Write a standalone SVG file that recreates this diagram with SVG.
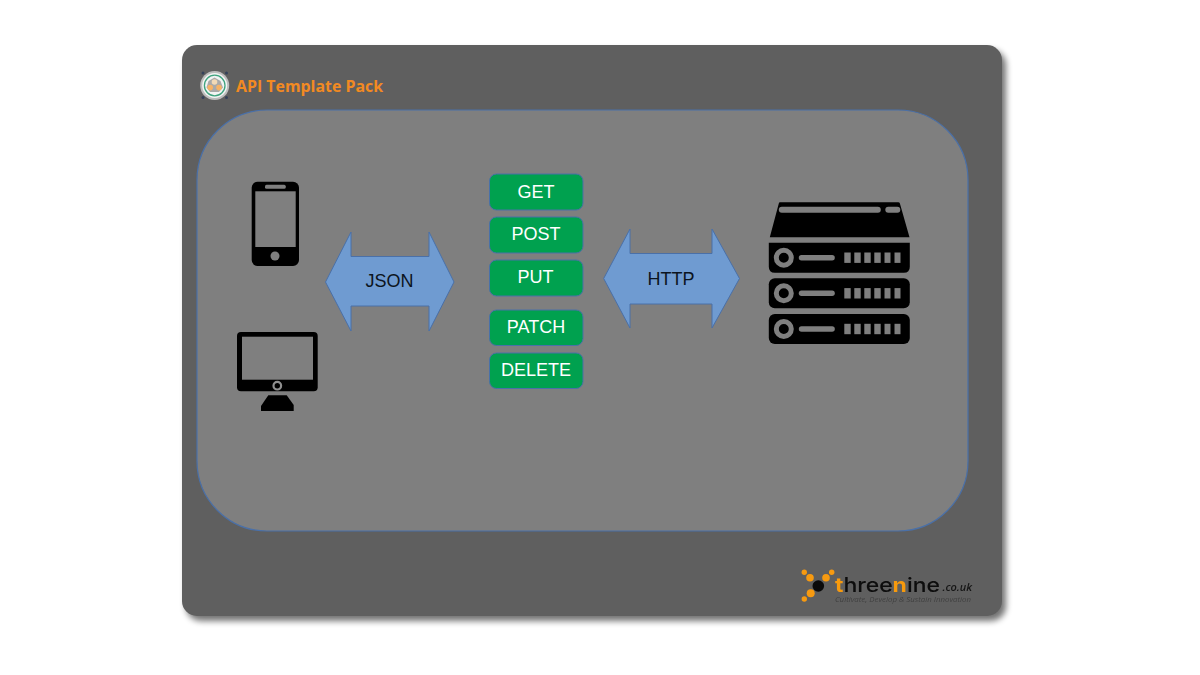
<svg xmlns="http://www.w3.org/2000/svg" width="1200" height="675" viewBox="0 0 1200 675">
  <defs>
    <filter id="shadow" x="-5%" y="-5%" width="112%" height="112%">
      <feGaussianBlur stdDeviation="3"/>
    </filter>
    <filter id="soft" x="-5%" y="-20%" width="110%" height="140%">
      <feGaussianBlur stdDeviation="0.45"/>
    </filter>
    <g id="unit">
      <circle cx="783.800" cy="0" r="7.500" fill="none" stroke="#7f7f7f" stroke-width="5"/>
      <rect x="798.800" y="-2.700" width="36" height="5.400" rx="2.700" fill="#7f7f7f"/>
      <rect x="844.300" y="-5.200" width="6.400" height="10.400" fill="#7f7f7f"/>
      <rect x="854.300" y="-5.200" width="6.400" height="10.400" fill="#7f7f7f"/>
      <rect x="864.300" y="-5.200" width="6.400" height="10.400" fill="#7f7f7f"/>
      <rect x="874.300" y="-5.200" width="6.400" height="10.400" fill="#7f7f7f"/>
      <rect x="884.500" y="-5.200" width="6" height="10.400" fill="#7f7f7f"/>
      <rect x="894.500" y="-5.200" width="6" height="10.400" fill="#7f7f7f"/>
    </g>
  </defs>
  <style>
    .btn { fill: #00a14f; stroke: #4a70a8; stroke-width: 1; }
    .btnt { font-family: "Liberation Sans", Arial, sans-serif; font-size: 18px; fill: #ffffff; text-anchor: middle; }
    .arrow { fill: #6f9bd1; stroke: #4a70a8; stroke-width: 1; }
    .arrowt { font-family: "Liberation Sans", Arial, sans-serif; font-size: 18px; fill: #0c1420; text-anchor: middle; }
    .org { fill: #f79a10; }
  </style>
  <rect width="1200" height="675" fill="#ffffff"/>

  <g id="panel">
    <rect x="186" y="50" width="820" height="571" rx="15" fill="#000000" opacity="0.55" filter="url(#shadow)"/>
    <rect x="182" y="45" width="820" height="571" rx="15" fill="#5f5f5f"/>
    <rect x="197" y="110" width="771" height="421" rx="70" fill="#7f7f7f" stroke="#4a70a8" stroke-width="1.200"/>
  </g>

  <g id="title">
    <circle cx="203" cy="73" r="1.500" fill="#34415a"/>
    <circle cx="226.500" cy="73" r="1.500" fill="#34415a"/>
    <circle cx="203" cy="97.500" r="1.500" fill="#34415a"/>
    <circle cx="226.500" cy="97.500" r="1.500" fill="#34415a"/>
    <circle cx="214.700" cy="85.500" r="14.500" fill="#bdbdbd"/>
    <circle cx="214.700" cy="85.500" r="12.500" fill="#f2f4f3"/>
    <circle cx="214.700" cy="85.500" r="10.300" fill="#f2f4f3" stroke="#3fa37f" stroke-width="1.300"/>
    <path d="M214.500 77.500L220.500 81L223 87.500L219 92H210L206.500 87.500L208.500 81Z" fill="#a9a9a9"/>
    <circle cx="214.500" cy="82" r="2.800" fill="#f3d9b5"/>
    <circle cx="210.200" cy="87.600" r="2.800" fill="#f7b366"/>
    <circle cx="219" cy="87.600" r="2.800" fill="#f7b366"/>
    <text x="236" y="91.500" font-family="'Open Sans', 'Noto Sans', sans-serif" font-weight="700" font-size="16px" fill="#f28a22" textLength="147" lengthAdjust="spacingAndGlyphs">API Template Pack</text>
  </g>

  <g id="phone">
    <rect x="251.700" y="181.700" width="47.300" height="84.300" rx="6" fill="#000000"/>
    <rect x="255.300" y="191.300" width="40.400" height="55.700" fill="#7f7f7f"/>
    <rect x="265" y="184.700" width="20.700" height="4" rx="1.500" fill="#7f7f7f"/>
    <circle cx="275" cy="256" r="4.500" fill="#7f7f7f"/>
  </g>

  <g id="desktop">
    <rect x="237" y="332" width="80.700" height="59.300" rx="4" fill="#000000"/>
    <rect x="242" y="336.700" width="71" height="43" fill="#7f7f7f"/>
    <circle cx="277.300" cy="385.700" r="3.800" fill="#000000" stroke="#8f8f8f" stroke-width="2.200"/>
    <path d="M268.300 395.300H286.700L293.700 405V411H261V406Z" fill="#000000"/>
  </g>

  <g id="connectors">
    <g id="json-arrow">
      <path class="arrow" d="M325.500 282L351 232V256.500H429V232L454 282L429 331V306H351V331Z"/>
      <text class="arrowt" x="389.500" y="287">JSON</text>
    </g>
    <g id="http-arrow">
      <path class="arrow" d="M603.700 278.500L630 229V253.500H712V229L739.500 278.500L712 328V304H630V328Z"/>
      <text class="arrowt" x="671" y="285">HTTP</text>
    </g>
  </g>

  <g id="get"><rect class="btn" x="489.500" y="174" width="93.500" height="36" rx="7"/><text class="btnt" x="536" y="198">GET</text></g>
  <g id="post"><rect class="btn" x="489.500" y="217" width="93.500" height="36" rx="7"/><text class="btnt" x="536" y="240">POST</text></g>
  <g id="put"><rect class="btn" x="489.500" y="260" width="93.500" height="36" rx="7"/><text class="btnt" x="535.500" y="283">PUT</text></g>
  <g id="patch"><rect class="btn" x="489.500" y="310" width="93.500" height="35.500" rx="7"/><text class="btnt" x="536" y="333">PATCH</text></g>
  <g id="delete"><rect class="btn" x="489.500" y="353" width="93.500" height="35.500" rx="7"/><text class="btnt" x="536" y="376">DELETE</text></g>

  <g id="server">
    <path d="M780 202.300H898.300Q899.500 202.300 899.900 203.500L909.500 237.300H769.800L778.800 203.500Q779 202.300 780 202.300Z" fill="#000000"/>
    <rect x="778.800" y="206.800" width="102" height="6" rx="3" fill="#7f7f7f"/>
    <rect x="885.300" y="206.800" width="15" height="6" rx="3" fill="#7f7f7f"/>
    <path d="M768.800 242.700H909.800V266.700Q909.800 272.700 903.800 272.700H774.800Q768.800 272.700 768.800 266.700Z" fill="#000000"/>
    <use href="#unit" y="257.700"/>
    <rect x="768.800" y="278.300" width="141" height="30" rx="6" fill="#000000"/>
    <use href="#unit" y="293.300"/>
    <rect x="768.800" y="314" width="141" height="30" rx="6" fill="#000000"/>
    <use href="#unit" y="329"/>
  </g>

  <g id="threenine-logo">
    <g class="org">
      <circle cx="804.300" cy="572.300" r="2.700"/>
      <circle cx="810" cy="577.700" r="3.800"/>
      <circle cx="826" cy="577.700" r="3.800"/>
      <circle cx="831.700" cy="572.300" r="2.700"/>
      <circle cx="810.700" cy="593.300" r="4"/>
      <circle cx="804.300" cy="599" r="2.700"/>
    </g>
    <circle cx="818.300" cy="586" r="5.800" fill="#0a0a0a"/>
    <g filter="url(#soft)">
      <text x="835" y="591.500" font-family="Inter, 'Open Sans', sans-serif" font-weight="500" font-size="20px" fill="#0a0a0a" textLength="105" lengthAdjust="spacingAndGlyphs"><tspan fill="#f79a10" font-weight="700">t</tspan>hree<tspan fill="#f79a10" font-weight="700">n</tspan>ine</text>
      <text x="942.500" y="591" font-family="'Open Sans', 'Noto Sans', sans-serif" font-style="italic" font-weight="600" font-size="10.500px" fill="#151515" textLength="29.500" lengthAdjust="spacingAndGlyphs">.co.uk</text>
      <text x="835" y="601.500" font-family="'Open Sans', 'Noto Sans', sans-serif" font-style="italic" font-size="7.500px" fill="#404040" textLength="136" lengthAdjust="spacingAndGlyphs">Cultivate, Develop &amp; Sustain Innovation</text>
    </g>
  </g>
</svg>
